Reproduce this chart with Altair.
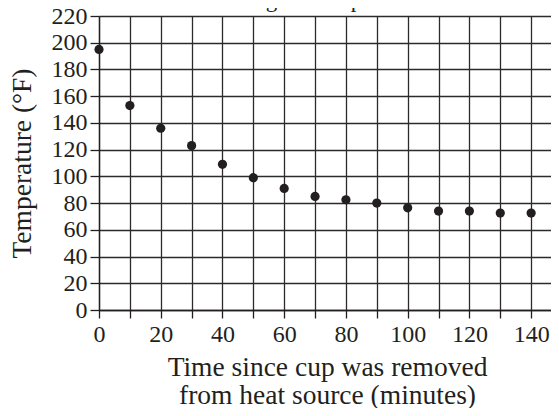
import altair as alt
import pandas as pd

# Data
time_min = [0, 10, 20, 30, 40, 50, 60, 70, 80, 90, 100, 110, 120, 130, 140]
temp_f = [195, 153, 136, 123, 109, 99, 91, 85, 82.5, 80, 76.5, 74, 74, 72.5, 72.5]
x_ticks = list(range(0, 151, 10))
y_ticks = list(range(0, 221, 20))
chart_title = "Cooling of a Cup of Coffee"
x_title = ["Time since cup was removed", "from heat source (minutes)"]
y_title = "Temperature (°F)"

df = pd.DataFrame({"time": time_min, "temp": temp_f})
title_df = pd.DataFrame({"label": [chart_title]})

FONT = "Liberation Serif"
INK = "#231f20"
W, H = 452, 294       # drawn view (fits the page)
X_RANGE = 463         # x scale runs a little past the page edge, as in the reference

points = alt.Chart(df).mark_circle(size=85, color=INK, opacity=1).encode(
    x=alt.X(
        "time:Q",
        scale=alt.Scale(domain=[0, 150], range=[0, X_RANGE], nice=False, zero=False),
        axis=alt.Axis(
            values=x_ticks,
            labelExpr="datum.value % 20 === 0 ? datum.label : ''",
            labelOverlap=False,
            labelFlush=False,
            labelFont=FONT,
            labelFontSize=24,
            labelColor=INK,
            labelPadding=4,
            tickSize=8,
            tickColor=INK,
            tickWidth=1.3,
            domainColor=INK,
            domainWidth=1.3,
            grid=True,
            gridColor="#2b2b2b",
            gridWidth=1.3,
            title=x_title,
            titleFont=FONT,
            titleFontSize=27.5,
            titleFontWeight="normal",
            titleColor=INK,
            titleX=228,
            titleY=65,
            titleAlign="center",
            titleBaseline="alphabetic",
            titleLineHeight=28,
        ),
    ),
    y=alt.Y(
        "temp:Q",
        scale=alt.Scale(domain=[0, 220], nice=False, zero=False),
        axis=alt.Axis(
            values=y_ticks,
            labelOverlap=False,
            labelFlush=False,
            labelFont=FONT,
            labelFontSize=24,
            labelColor=INK,
            labelPadding=3,
            tickSize=9,
            tickColor=INK,
            tickWidth=1.3,
            domainColor=INK,
            domainWidth=1.3,
            grid=True,
            gridColor="#2b2b2b",
            gridWidth=1.3,
            title=y_title,
            titleFont=FONT,
            titleFontSize=27.5,
            titleFontWeight="normal",
            titleColor=INK,
            titleAngle=270,
            titleX=-69,
            titleY=147,
            titleAlign="center",
            titleBaseline="alphabetic",
        ),
    ),
)

title_mark = alt.Chart(title_df).mark_text(
    font=FONT, fontSize=23, color=INK, align="center", baseline="alphabetic"
).encode(
    text="label:N",
    x=alt.value(230),
    y=alt.value(-9),
)

chart = (
    alt.layer(points, title_mark)
    .properties(
        width=W,
        height=H,
        autosize=alt.AutoSizeParams(type="none"),
        padding={"left": 91, "top": 8, "right": 0, "bottom": 98},
        background="white",
    )
    .configure_view(strokeWidth=0)
)

chart.save("out.html", embed_options={"renderer": "svg", "actions": False})
